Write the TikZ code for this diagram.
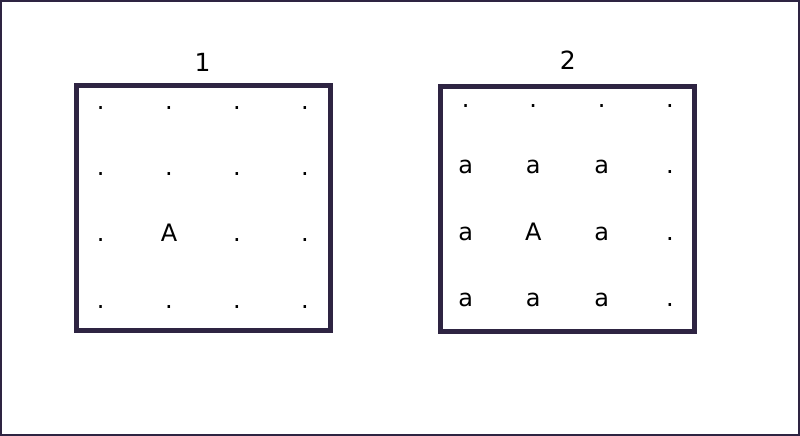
\documentclass[tikz,border=0pt]{standalone}
\usepackage{fontspec}
\setmainfont{DejaVu Sans}
\definecolor{framecol}{RGB}{46,36,66}
\begin{document}
\begin{tikzpicture}[x=1pt,y=-1pt,
  cell/.style={anchor=base,inner sep=0pt,font=\fontsize{24}{28}\selectfont},
  gridbox/.style={draw=framecol,line width=4.7pt,inner sep=0pt,outer sep=0pt,minimum width=254pt,minimum height=245pt}]
\useasboundingbox (0,0) rectangle (800,436);
\draw[draw=framecol,line width=2pt] (1,1) rectangle (799,435);
\node[gridbox] (box1) at (203.5,208) {};
\node[gridbox] (box2) at (567.5,208.8) {};
\node[cell,font=\fontsize{25}{30}\selectfont] (lab1) at (202.7,71.7) {1};
\node[cell,font=\fontsize{25}{30}\selectfont] (lab2) at (567.7,70) {2};
% box 1
\foreach \t [count=\i] in {.,.,.,.,.,.,.,.,.,A,.,.,.,.,.,.}{
  \pgfmathtruncatemacro{\r}{div(\i-1,4)}
  \pgfmathtruncatemacro{\c}{mod(\i-1,4)}
  \pgfmathsetmacro{\xx}{{100.7,169,237,305}[\c]}
  \pgfmathsetmacro{\yy}{{109,175.5,241.5,308}[\r]}
  \node[cell] (p\i) at (\xx,\yy) {\t};
}
% box 2
\foreach \t [count=\i] in {.,.,.,.,a,a,a,.,a,A,a,.,a,a,a,.}{
  \pgfmathtruncatemacro{\r}{div(\i-1,4)}
  \pgfmathtruncatemacro{\c}{mod(\i-1,4)}
  \pgfmathsetmacro{\xx}{{465.7,533.3,601.7,670}[\c]}
  \pgfmathsetmacro{\yy}{{107.5,173.5,240.5,306.5}[\r]}
  \node[cell] (q\i) at (\xx,\yy) {\t};
}
\end{tikzpicture}
\end{document}
